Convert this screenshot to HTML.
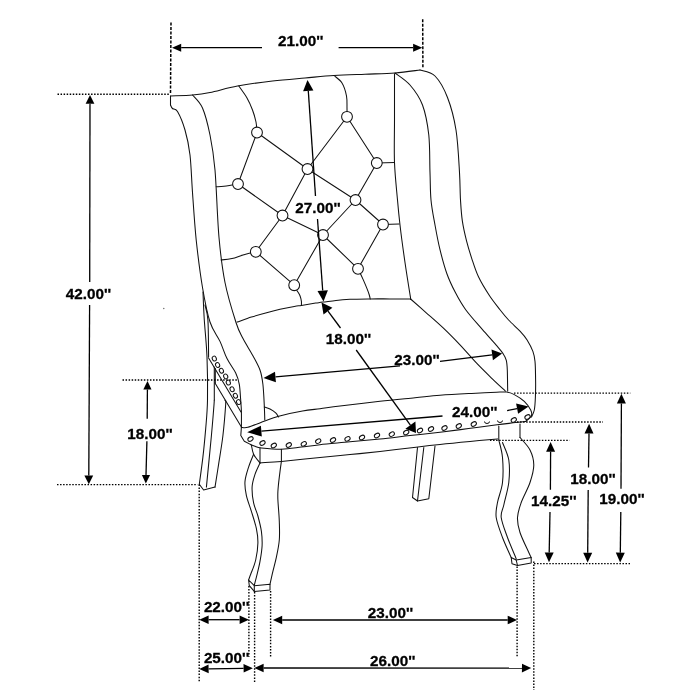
<!DOCTYPE html>
<html lang="en">
<head>
<meta charset="utf-8">
<title>Chair dimensions</title>
<style>
html,body{margin:0;padding:0;background:#fff;}
body{width:700px;height:700px;overflow:hidden;}
svg{display:block;}
</style>
</head>
<body>
<svg width="700" height="700" viewBox="0 0 700 700">
<rect width="700" height="700" fill="#ffffff"/>
<g fill="none" stroke="#111" stroke-width="1.05" stroke-linecap="round" stroke-linejoin="round">
<path d="M170.5,96 C174.2,95.8 185.9,95.6 192.5,95 C199.1,94.4 202.5,94 210,92.5 C217.5,91 227.1,87.9 237.5,86 C247.9,84.1 261.2,82.3 272.5,81 C283.8,79.7 294.8,78.9 305,78 C315.2,77.1 324,76.1 334,75.5 C344,74.9 354.8,74.6 365,74.2 C375.2,73.8 385.8,73.7 395,73 C404.2,72.3 415.8,70.5 420,70"/>
<path d="M170.5,96 L170.5,105"/>
<path d="M170.5,105 C170.8,105.6 171.3,107.4 172.5,108.5 C173.7,109.6 175.4,107.9 177.5,111.5 C179.6,115.1 182.9,122.8 185,130 C187.1,137.2 188.8,144.6 190,155 C191.2,165.4 191.5,178.3 192.5,192.5 C193.5,206.7 194.6,224.2 196.2,240 C197.9,255.8 200.2,273.8 202.5,287.5 C204.8,301.2 207.1,313 210,322 C212.9,331 217.2,335.3 220,341.4 C222.8,347.5 224.4,353.4 227,358.6 C229.6,363.9 233.6,368.6 235.7,372.9 C237.8,377.2 238.5,379.8 239.3,384.3 C240.1,388.8 240.3,395.5 240.7,400 C241,404.5 241.3,406.9 241.4,411.4 C241.5,415.9 241.4,424.5 241.4,427.1"/>
<path d="M192.5,95 C194.2,97.2 199.6,101.3 202.5,108 C205.4,114.7 207.9,124.7 210,135 C212.1,145.3 213.5,152.9 215,170 C216.5,187.1 217.3,218.8 219,237.5 C220.7,256.2 222.2,268.3 225,282.5 C227.8,296.7 233,313.1 236,322.5 C239,331.9 240.2,333.1 243,338.6 C245.8,344.1 250.1,350.5 252.9,355.7 C255.7,360.9 258.3,365.2 260,370 C261.7,374.8 262.2,378.4 262.9,384.3 C263.6,390.2 264,399.8 264.3,405.7 C264.6,411.6 264.7,417.6 264.8,420"/>
<path d="M420,70 C422.5,71 430.4,71.4 435,76 C439.6,80.6 444,88.5 447.5,97.5 C451,106.5 454,117.5 456,130 C458,142.5 458.8,160.8 459.5,172.5 C460.2,184.2 460,192 460.5,200 C461,208 461.3,213.8 462.3,220.6 C463.3,227.4 465,234.8 466.6,241.1 C468.2,247.4 469.7,252.3 471.7,258.3 C473.7,264.3 475.6,270.8 478.6,277.1 C481.6,283.4 486.1,290.6 489.7,296 C493.3,301.4 496.9,305.7 500,309.7 C503.1,313.7 505.3,316.4 508.6,320 C511.9,323.6 516.9,327.8 520,331.1 C523.1,334.4 525,336.6 527.1,340 C529.2,343.4 531.6,347.8 532.9,351.4 C534.2,355 534.5,356.6 535,361.4 C535.5,366.2 535.5,374.1 535.6,380 C535.7,385.9 535.6,392.1 535.4,397.1 C535.2,402.1 535,406.7 534.3,410 C533.6,413.3 531.9,415.9 531.4,417.1"/>
<path d="M395,73 C397.5,75 405.4,79.7 410,85 C414.6,90.3 419.4,96.7 422.5,105 C425.6,113.3 427.5,123.8 428.8,135 C430,146.2 429.6,161.7 430,172.5 C430.4,183.3 430.2,191.2 431,200 C431.8,208.8 433.5,216.7 435,225 C436.5,233.3 438,241.6 440,249.7 C442,257.8 444.3,266.5 446.9,273.7 C449.5,280.9 452.3,286.6 455.4,292.6 C458.5,298.6 461.2,303.6 465.7,309.7 C470.2,315.8 477.2,323.5 482.3,329.4 C487.4,335.3 492.6,340.9 496,344.9 C499.4,348.9 501.2,350.8 502.9,353.4 C504.6,356 505.6,357.5 506.3,360.3 C507,363.1 507.1,364.9 507.3,370 C507.5,375.1 507.6,387.6 507.7,391.1"/>
<path d="M394.5,73.8 C394.5,81.5 394.5,105.2 394.5,120 C394.5,134.8 394,149.2 394.5,162.5 C395,175.8 396.6,189.6 397.5,200 C398.4,210.4 398.8,214.6 400,225 C401.2,235.4 403.2,250.1 405,262.5 C406.8,274.9 409.8,293.3 410.8,299.5"/>
<path d="M237.1,322.1 C239.5,321.3 246.6,318.6 251.4,317.1 C256.2,315.6 260.9,314.2 265.7,312.9 C270.5,311.6 275.2,310.4 280,309.3 C284.8,308.2 290.7,307 294.3,306.4 C297.9,305.8 297.8,305.9 301.4,305.4 C305,304.8 312.1,303.7 315.7,303.1 C319.3,302.6 319.5,302.6 322.9,302.1 C326.3,301.7 331.5,300.9 336,300.4 C340.5,299.9 344.2,299.6 350,299.3 C355.8,299.1 364.3,299 371,298.9 C377.7,298.8 383.4,298.9 390,298.9 C396.6,298.9 407.2,299 410.6,299"/>
<path d="M410.6,299 C413.1,301.2 420.3,307.5 425.7,312.3 C431.1,317.1 437.2,322.3 442.9,327.7 C448.6,333.1 454.3,338.9 460,344.9 C465.7,350.9 471.7,358 477.1,363.7 C482.5,369.4 487.9,374.5 492.6,379.1 C497.3,383.7 503.3,389.1 505.4,391.1"/>
<path d="M241.4,427.3 C242.5,427.3 244,428.4 247.9,427.3 C251.8,426.2 259.7,422.9 264.8,421 C269.9,419.1 272.4,417.9 278.7,416.2 C285,414.5 295.6,412.2 302.5,411 C309.4,409.8 313.8,409.5 320,408.7 C326.2,407.9 330,407.2 340,406 C350,404.8 367.5,402.7 380,401.3 C392.5,399.9 405,398.8 415,397.8 C425,396.8 431.1,396 440,395.3 C448.9,394.6 458.6,394.1 468.6,393.6 C478.6,393.1 493.5,392.3 500,392.1 C506.5,391.9 505.1,391.8 507.5,392.2 C509.9,392.6 511.5,393.1 514.3,394.6 C517.1,396.1 521.6,398.8 524.3,401.4 C527,404 529.5,407.6 530.7,410 C531.9,412.4 532.2,413.8 531.4,415.7 C530.6,417.6 526.7,420.4 525.7,421.4"/>
<path d="M241.4,427.1 L240.8,435.5 L244.3,441.2 L250.4,444.4"/>
<path d="M250.4,444.4 C251.2,444.7 253.2,445.7 255,446.3 C256.8,446.9 257,447.4 261.4,447.9 C265.8,448.4 274.7,449.4 281.4,449.3 C288.1,449.2 295,447.9 301.4,447.1 C307.8,446.3 311.9,445.6 320,444.7 C328.1,443.8 340,442.8 350,441.8 C360,440.9 370,440 380,439 C390,438 400,436.7 410,435.6 C420,434.5 430.2,433.4 440,432.2 C449.8,431 459.1,429.8 468.6,428.6 C478.1,427.4 489.2,425.8 497.1,424.8 C505,423.8 510.9,423.2 515.7,422.6 C520.5,422 524,421.6 525.7,421.4"/>
<path d="M264.3,407 C265.2,407.3 268.1,408 270,409 C271.9,410 274.3,411.6 275.7,412.9 C277.1,414.2 278.1,416.3 278.6,417"/>
<path d="M251.4,445 C251.8,446.6 252.2,451.3 253.6,454.3 C255,457.3 258.9,461.5 260,462.9"/>
<path d="M260,447.9 L260,462.9"/>
<path d="M281.4,449.3 L281.4,461.4"/>
<path d="M260,462.9 C263.6,462.6 271.4,462.3 281.4,461.4 C291.4,460.5 308.6,458.6 320,457.5 C331.4,456.4 340,455.6 350,454.6 C360,453.6 369,452.7 380,451.5 C391,450.3 406,448.4 416,447.2 C426,446 431,445.4 440,444.4 C449,443.4 460.4,442.3 470,441.4 C479.6,440.5 492.9,439.3 497.5,438.9"/>
<path d="M253.6,454.3 C252.8,456.4 250,462.6 248.6,467.1 C247.2,471.6 245.4,476.6 245,481.4 C244.6,486.2 245.3,490.7 246.4,495.7 C247.5,500.7 249.7,505.9 251.4,511.4 C253.1,516.9 255.3,523.4 256.4,528.6 C257.5,533.9 258,537.7 257.9,542.9 C257.8,548.1 256.9,554.8 255.7,560 C254.5,565.2 251.9,571 250.7,574.3 C249.5,577.6 248.9,579 248.6,580"/>
<path d="M260,462.9 C259.2,464.8 256.3,470.3 255,474.3 C253.7,478.3 252.3,482.3 252.1,487.1 C251.9,491.9 252.6,498.1 253.6,502.9 C254.6,507.7 256.6,511.2 257.9,516 C259.2,520.8 260.7,526.4 261.4,531.4 C262.1,536.4 262.3,540.7 262.1,545.7 C261.9,550.7 260.9,556.2 260,561.4 C259.1,566.6 257.3,573.2 256.4,577.1 C255.4,581 254.7,583.7 254.3,585"/>
<path d="M281.4,461.4 C281,464 279.9,472.1 279.3,477.1 C278.7,482.1 278.1,487.6 277.9,491.4 C277.7,495.2 277.7,495 277.9,500 C278.1,505 279.1,514.7 279.3,521.4 C279.5,528.1 279.8,534 279.3,540 C278.8,546 277.5,551.9 276.4,557.1 C275.3,562.3 274,566.9 272.9,571.4 C271.8,575.9 270.5,582.1 270,584.3"/>
<path d="M248.6,580 L254.3,585.7 L270,584.3 L270,590 L254.3,591.4 L249.3,585.7 L248.6,580"/>
<path d="M254.3,585.7 L254.3,591.4"/>
<path d="M498.8,426 L498.8,440"/>
<path d="M520,424 L520,437.5"/>
<path d="M498.8,440 C499.4,442.9 501.9,450.4 502.5,457.5 C503.1,464.6 503.3,475 502.5,482.5 C501.7,490 498.5,496.7 497.5,502.5 C496.5,508.3 495.4,511.7 496.2,517.5 C497.1,523.3 500,530.8 502.5,537.5 C505,544.2 509.8,554.2 511.2,557.5"/>
<path d="M502.5,442.5 C503.5,445.4 507.7,453.3 508.8,460 C509.8,466.7 509.6,475 508.8,482.5 C507.9,490 505,499.2 503.8,505 C502.5,510.8 500.6,512.1 501.2,517.5 C501.9,522.9 505,530.6 507.5,537.5 C510,544.4 514.8,555.2 516.2,558.8"/>
<path d="M520,437.5 C521.7,439.6 527.7,445.4 530,450 C532.3,454.6 533.8,459.6 533.8,465 C533.8,470.4 532.1,476.2 530,482.5 C527.9,488.8 523.3,496.7 521.2,502.5 C519.2,508.3 517.7,512.5 517.5,517.5 C517.3,522.5 518.1,526.7 520,532.5 C521.9,538.3 526.9,548.3 528.8,552.5 C530.6,556.7 530.8,556.7 531.2,557.5"/>
<path d="M511.2,557.5 L516.2,560 L531.2,557.5 L531.2,563 L517.5,565.5 L512,563.8 L511.2,557.5"/>
<path d="M516.2,560 L517.5,565.5"/>
<path d="M417.5,447.5 L412.5,497.5 L417.5,501 L428.8,498.8 L435,446"/>
<path d="M423.8,447.5 L417.5,501"/>
<path d="M203,292 C203.2,296.7 203.6,309.2 204.3,320 C205,330.8 206.5,343.7 207,357 C207.5,370.3 207.7,388.1 207.5,400 C207.3,411.9 206.5,419.1 205.7,428.6 C204.9,438.1 204,447.8 202.9,457.1 C201.8,466.4 199.9,479.8 199.3,484.3"/>
<path d="M205,305 C205.5,307.5 207.3,311.3 207.9,320 C208.5,328.7 208.5,350.8 208.6,357"/>
<path d="M208.6,357.9 L241,412"/>
<path d="M215,382.9 L241.4,427.1"/>
<path d="M214.3,367 L214.3,400"/>
<path d="M215.3,368.5 L215.3,383"/>
<path d="M214.3,400 C214.2,401.7 214.1,404.1 213.6,410 C213.1,415.9 212.6,422.8 211.4,435.7 C210.2,448.6 207.2,478.5 206.4,487.1"/>
<path d="M225,400.5 C225.1,401.1 226,398.4 225.7,404.3 C225.3,410.2 224.1,425.7 222.9,435.7 C221.7,445.7 219.9,455.7 218.6,464.3 C217.3,472.9 215.6,483.3 215,487.1"/>
<path d="M199.3,484.3 L203.6,490 L215,487.1"/>
<path d="M257,132.5 L238,184"/>
<path d="M257,132.5 L307.5,169"/>
<path d="M238,184 L282.5,215.5"/>
<path d="M307.5,169 L282.5,215.5"/>
<path d="M307.5,169 L347,116.8"/>
<path d="M347,116.8 L376.8,163"/>
<path d="M376.8,163 L355.5,200"/>
<path d="M307.5,169 L355.5,200"/>
<path d="M355.5,200 L383,224.5"/>
<path d="M355.5,200 L323,235"/>
<path d="M282.5,215.5 L323,235"/>
<path d="M282.5,215.5 L255.8,251.8"/>
<path d="M255.8,251.8 L294.2,285.2"/>
<path d="M323,235 L294.2,285.2"/>
<path d="M323,235 L358,268.8"/>
<path d="M383,224.5 L358,268.8"/>
<path d="M238.8,86 C240.1,88 244.7,94 247,98 C249.3,102 251,106 252.5,110 C254,114 255.2,118.2 256,122 C256.8,125.8 256.8,130.8 257,132.5"/>
<path d="M334,75.5 C335.3,76.8 339.9,79.6 342,83 C344.1,86.4 345.7,91.8 346.5,96 C347.3,100.2 346.9,104.5 347,108 C347.1,111.5 347,115.3 347,116.8"/>
<path d="M216.2,186.8 C217.5,186.7 220.4,186.8 224,186.3 C227.6,185.8 235.7,184.4 238,184"/>
<path d="M376.8,163 L394.5,162.5"/>
<path d="M383,224.5 L399,224"/>
<path d="M221,260 C222.8,259.8 228.3,259.3 232,258.5 C235.7,257.7 239,256.1 243,255 C247,253.9 253.6,252.3 255.8,251.8"/>
<path d="M294.2,285.2 C294.7,286.1 296.1,288.9 297.1,290.7 C298.1,292.4 299.3,293.9 300,295.7 C300.7,297.5 301.2,299.8 301.4,301.4 C301.6,303 301.4,304.7 301.4,305.4"/>
<path d="M358,268.8 C358.9,270.6 361.8,276.5 363.3,279.9 C364.8,283.3 366.1,286.4 367.1,288.9 C368.1,291.4 368.8,293.3 369.3,295 C369.8,296.7 370.1,298.3 370.2,299"/>
</g>
<g fill="#ffffff" stroke="#111" stroke-width="1.05">
<circle cx="257" cy="132.5" r="5.4"/>
<circle cx="238" cy="184" r="5.4"/>
<circle cx="307.5" cy="169" r="5.4"/>
<circle cx="282.5" cy="215.5" r="5.4"/>
<circle cx="323" cy="235" r="5.4"/>
<circle cx="347" cy="116.8" r="5.4"/>
<circle cx="376.8" cy="163" r="5.4"/>
<circle cx="355.5" cy="200" r="5.4"/>
<circle cx="383" cy="224.5" r="5.4"/>
<circle cx="255.8" cy="251.8" r="5.4"/>
<circle cx="294.2" cy="285.2" r="5.4"/>
<circle cx="358" cy="268.8" r="5.4"/>
</g>
<g fill="#ffffff" stroke="#111" stroke-width="1">
<ellipse cx="250.5" cy="439" rx="2.8" ry="2" transform="rotate(-30 250.5 439)"/>
<ellipse cx="262.5" cy="443" rx="2.8" ry="2" transform="rotate(-30 262.5 443)"/>
<ellipse cx="273.8" cy="445.5" rx="2.8" ry="2" transform="rotate(-30 273.8 445.5)"/>
<ellipse cx="288.8" cy="445" rx="2.8" ry="2" transform="rotate(-30 288.8 445)"/>
<ellipse cx="303.8" cy="443.8" rx="2.8" ry="2" transform="rotate(-30 303.8 443.8)"/>
<ellipse cx="318.2" cy="441.2" rx="2.8" ry="2" transform="rotate(-30 318.2 441.2)"/>
<ellipse cx="333" cy="440" rx="2.8" ry="2" transform="rotate(-30 333 440)"/>
<ellipse cx="347.5" cy="438.8" rx="2.8" ry="2" transform="rotate(-30 347.5 438.8)"/>
<ellipse cx="362" cy="437.5" rx="2.8" ry="2" transform="rotate(-30 362 437.5)"/>
<ellipse cx="377" cy="435.5" rx="2.8" ry="2" transform="rotate(-30 377 435.5)"/>
<ellipse cx="391.8" cy="434.2" rx="2.8" ry="2" transform="rotate(-30 391.8 434.2)"/>
<ellipse cx="406.2" cy="432.5" rx="2.8" ry="2" transform="rotate(-30 406.2 432.5)"/>
<ellipse cx="420" cy="430.5" rx="2.8" ry="2" transform="rotate(-30 420 430.5)"/>
<ellipse cx="431" cy="429" rx="2.8" ry="2" transform="rotate(-30 431 429)"/>
<ellipse cx="444.5" cy="428" rx="2.8" ry="2" transform="rotate(-30 444.5 428)"/>
<ellipse cx="458.8" cy="426" rx="2.8" ry="2" transform="rotate(-30 458.8 426)"/>
<ellipse cx="473.8" cy="424" rx="2.8" ry="2" transform="rotate(-30 473.8 424)"/>
<ellipse cx="513.8" cy="420" rx="2.8" ry="2" transform="rotate(-30 513.8 420)"/>
<ellipse cx="527.5" cy="417" rx="2.8" ry="2" transform="rotate(-30 527.5 417)"/>
<path d="M484.5,421.5 a2.5,2 0 0 0 5,0"/>
<path d="M497.5,420.5 a2.5,2 0 0 0 5,0"/>
<ellipse cx="214.3" cy="358.6" rx="2" ry="2.5" transform="rotate(-25 214.3 358.6)"/>
<ellipse cx="217.6" cy="365" rx="2" ry="2.5" transform="rotate(-25 217.6 365)"/>
<ellipse cx="221.4" cy="370.7" rx="2" ry="2.5" transform="rotate(-25 221.4 370.7)"/>
<ellipse cx="225.7" cy="376.4" rx="2" ry="2.5" transform="rotate(-25 225.7 376.4)"/>
<ellipse cx="228.3" cy="382.6" rx="2" ry="2.5" transform="rotate(-25 228.3 382.6)"/>
<ellipse cx="232.1" cy="389.3" rx="2" ry="2.5" transform="rotate(-25 232.1 389.3)"/>
<ellipse cx="235.4" cy="395.7" rx="2" ry="2.5" transform="rotate(-25 235.4 395.7)"/>
<ellipse cx="238.6" cy="402.1" rx="2" ry="2.5" transform="rotate(-25 238.6 402.1)"/>
</g>
<circle cx="163.8" cy="308.5" r="0.7" fill="#666"/>
<g fill="none" stroke="#000" stroke-width="1.4" stroke-dasharray="1.5 1.55">
<path d="M57.5,94.3 L170,94.3"/>
<path d="M57,484.6 L197.5,484.6"/>
<path d="M122.5,380 L237,380"/>
<path d="M199.2,484.5 L199.2,682"/>
<path d="M248.9,586 L248.9,657"/>
<path d="M254.6,592 L254.6,682"/>
<path d="M270.6,591 L270.6,658"/>
<path d="M517.1,566.4 L517.1,657.5"/>
<path d="M533.8,561.5 L533.8,690"/>
<path d="M514,393.1 L630.3,393.1"/>
<path d="M517,422 L603,422"/>
<path d="M490,440.4 L569.5,440.4"/>
<path d="M534,563.6 L630,563.6"/>
</g>
<g fill="none" stroke="#000" stroke-width="1.5" stroke-dasharray="3 1.5">
<path d="M171,22.5 L170.5,94"/>
<path d="M422.7,19.3 L422.9,67.5"/>
</g>
<g fill="none" stroke="#000" stroke-width="1.3">
<path d="M181.2,47.7 L262,47.7"/>
<path d="M338.6,47.7 L413.1,47.7"/>
<path d="M90,103.7 L89.7,282"/>
<path d="M89.6,305 L88.8,475.5"/>
<path d="M147.4,389.5 L147.2,418.8"/>
<path d="M146.9,441.2 L146,475"/>
<path d="M208.6,619.7 L239.6,619.7"/>
<path d="M208.6,668.9 L243.6,668.3"/>
<path d="M282.2,620 L507.7,620"/>
<path d="M263.6,668 L522,668.1"/>
<path d="M621.4,403.5 L621,488.8"/>
<path d="M620.8,512 L620.3,552.7"/>
<path d="M589,433.5 L588.5,467.5"/>
<path d="M588.2,490 L587.7,552.7"/>
<path d="M550.6,451.8 L550.4,489.7"/>
<path d="M550,512 L549.2,552.5"/>
<path d="M308.3,91 L315.5,196"/>
<path d="M317.5,219 L322.7,290.5"/>
<path d="M328,311.2 L340.5,328"/>
<path d="M356.2,350 L410.4,425.1"/>
<path d="M275.5,376.9 L400,365.8"/>
<path d="M440,361.4 L492.2,354.8"/>
<path d="M261.4,431.1 L442.5,416"/>
<path d="M507.1,410.6 L517.1,408.6"/>
</g>
<g fill="#000" stroke="none">
<path d="M172,47.7 L181.2,43.7 L181.2,51.7 Z"/>
<path d="M422.3,47.7 L413.1,51.7 L413.1,43.7 Z"/>
<path d="M90,95 L94.4,103.7 L85.6,103.7 Z"/>
<path d="M88.8,484.2 L84.4,475.5 L93.2,475.5 Z"/>
<path d="M147.5,381 L151.5,389.5 L143.3,389.5 Z"/>
<path d="M145.8,483.5 L141.9,474.9 L150.1,475.1 Z"/>
<path d="M199.3,619.7 L208.6,615.4 L208.6,624 Z"/>
<path d="M248.9,619.7 L239.6,624 L239.6,615.4 Z"/>
<path d="M199.3,669 L208.5,664.6 L208.7,673.2 Z"/>
<path d="M252.9,668.2 L243.7,672.6 L243.5,664 Z"/>
<path d="M272.9,620 L282.2,615.7 L282.2,624.3 Z"/>
<path d="M517,620 L507.7,624.3 L507.7,615.7 Z"/>
<path d="M254.3,668 L263.6,663.7 L263.6,672.3 Z"/>
<path d="M531.2,668.1 L521.9,672.4 L522,663.8 Z"/>
<path d="M621.4,393.7 L625.9,403.5 L616.9,403.5 Z"/>
<path d="M620.2,562.5 L615.8,552.6 L624.8,552.8 Z"/>
<path d="M589.1,423.7 L593.5,433.6 L584.5,433.4 Z"/>
<path d="M587.6,562.5 L583.2,552.7 L592.2,552.7 Z"/>
<path d="M550.6,442 L555.1,451.8 L546.1,451.8 Z"/>
<path d="M549,562.3 L544.7,552.4 L553.7,552.6 Z"/>
<path d="M307.5,80 L313.4,90.6 L303.1,91.3 Z"/>
<path d="M323.5,301.5 L317.5,290.9 L327.9,290.2 Z"/>
<path d="M321.5,302.5 L332.4,307.8 L323.5,314.5 Z"/>
<path d="M416,432.9 L405.4,428.7 L415.4,421.5 Z"/>
<path d="M263.5,378 L275,371.7 L275.9,382.2 Z"/>
<path d="M502.1,353.6 L492.9,360.2 L491.5,349.5 Z"/>
<path d="M247.2,432.3 L260.9,425.8 L261.8,436.4 Z"/>
<path d="M528.6,406.4 L518.1,413.8 L516.1,403.4 Z"/>
</g>
<g opacity="0.999" font-family="'Liberation Sans', Arial, Helvetica, sans-serif" font-weight="700" font-size="15.5" text-anchor="middle" fill="#000" stroke="#000" stroke-width="0.3">
<text transform="translate(300.7 46.1) scale(0.985 1)">21.00''</text>
<text transform="translate(88.5 298.9) scale(0.985 1)">42.00''</text>
<text transform="translate(150 438.8) scale(0.985 1)">18.00''</text>
<text transform="translate(226.6 611.9) scale(0.985 1)">22.00''</text>
<text transform="translate(226.6 662.5) scale(0.985 1)">25.00''</text>
<text transform="translate(390.5 617.6) scale(0.985 1)">23.00''</text>
<text transform="translate(392.7 665.6) scale(0.985 1)">26.00''</text>
<text transform="translate(622 503.7) scale(0.985 1)">19.00''</text>
<text transform="translate(593 484.3) scale(0.985 1)">18.00''</text>
<text transform="translate(553.8 505.6) scale(0.985 1)">14.25''</text>
<text transform="translate(318 212.7) scale(0.985 1)">27.00''</text>
<text transform="translate(348.5 344) scale(0.985 1)">18.00''</text>
<text transform="translate(417 364.5) scale(0.985 1)">23.00''</text>
<text transform="translate(474.7 416.9) scale(0.985 1)">24.00''</text>
</g>
</svg>
</body>
</html>
